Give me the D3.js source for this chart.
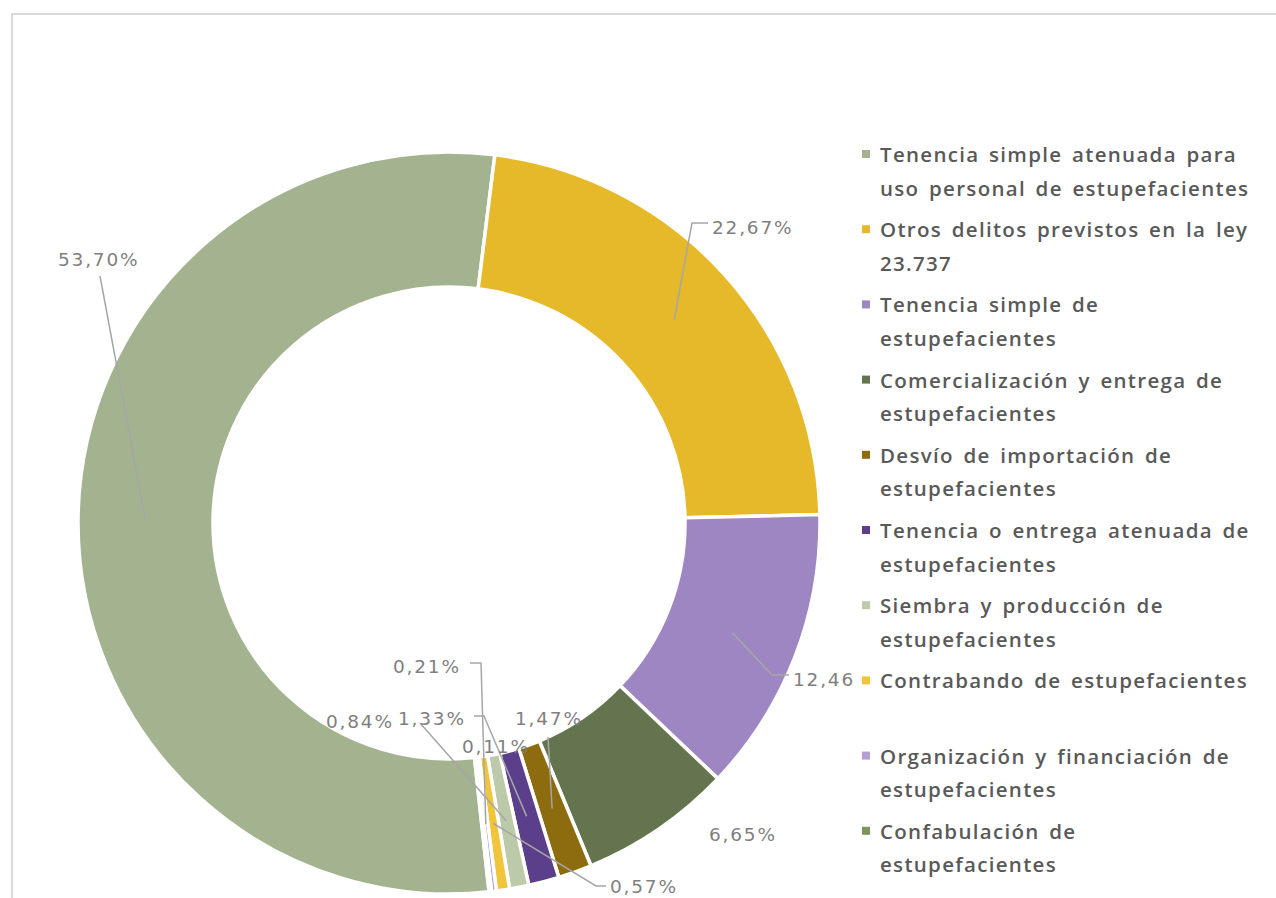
<!DOCTYPE html>
<html>
<head>
<meta charset="utf-8">
<script src="https://cdn.jsdelivr.net/npm/d3@7"></script>
<style>
  body { margin: 0; background: #fff; }
  svg { display: block; }
</style>
</head>
<body>
<script>
// categories (legend order = slice order, clockwise)
var categories = [
  "Tenencia simple atenuada para\nuso personal de estupefacientes",
  "Otros delitos previstos en la ley\n23.737",
  "Tenencia simple de\nestupefacientes",
  "Comercialización y entrega de\nestupefacientes",
  "Desvío de importación de\nestupefacientes",
  "Tenencia o entrega atenuada de\nestupefacientes",
  "Siembra y producción de\nestupefacientes",
  "Contrabando de estupefacientes",
  "Organización y financiación de\nestupefacientes",
  "Confabulación de\nestupefacientes"
];
var values = [53.70, 22.67, 12.46, 6.65, 1.47, 1.33, 0.84, 0.57, 0.21, 0.11];
var colors = ["#a4b38f", "#e5b92a", "#9d86c2", "#64744f", "#8c6c0f",
              "#5b3f8a", "#bccaa9", "#f0c53a", "#b19fd6", "#7b955d"];

// where Excel put each data label (text x, baseline y) and the leader start
var labelLayout = [
  {x: 58,  y: 266, lead: [[100, 276]]},
  {x: 712, y: 234, lead: [[708, 223], [692, 223]]},
  {x: 793, y: 686, lead: [[789, 675], [772, 675]]},
  {x: 709, y: 841, lead: null},
  {x: 515, y: 725, lead: [[548, 737]]},
  {x: 398, y: 725, lead: [[474, 716], [484, 716]]},
  {x: 326, y: 728, lead: [[420, 723]]},
  {x: 610, y: 893, lead: [[606, 886], [596, 886]]},
  {x: 393, y: 673, lead: [[470, 663], [481, 663]]},
  {x: 462, y: 753, lead: null}
];

var width = 1276, height = 898;
var cx = 449, cy = 523, outerR = 371, innerR = 236;
var startDeg = 173.8;

var locale = d3.formatLocale({decimal: ",", thousands: ".", grouping: [3], currency: ["", ""]});
var fmt = locale.format(".2f");

var svg = d3.select("body").append("svg")
  .attr("width", width)
  .attr("height", height);

// frame
svg.append("rect")
  .attr("x", 12).attr("y", 14)
  .attr("width", 1400).attr("height", 1000)
  .attr("fill", "#fff")
  .attr("stroke", "#d9d9d9")
  .attr("stroke-width", 2);

var pie = d3.pie()
  .sort(null)
  .value(function(d){ return d; })
  .startAngle(startDeg * Math.PI / 180)
  .endAngle(startDeg * Math.PI / 180 + 2 * Math.PI);

var arc = d3.arc().innerRadius(innerR).outerRadius(outerR);

var arcs = pie(values);

var g = svg.append("g").attr("transform", "translate(" + cx + "," + cy + ")");

g.selectAll("path.slice")
  .data(arcs)
  .enter().append("path")
  .attr("class", "slice")
  .attr("d", arc)
  .attr("fill", function(d, i){ return colors[i]; })
  .attr("stroke", "#fff")
  .attr("stroke-width", 3.5);

// leader lines
var line = d3.line();
arcs.forEach(function(d, i){
  var lay = labelLayout[i];
  if (!lay.lead) return;
  var c = arc.centroid(d);
  var pts = lay.lead.concat([[c[0] + cx, c[1] + cy]]);
  svg.append("path")
    .attr("d", line(pts))
    .attr("fill", "none")
    .attr("stroke", "#a6a6a6")
    .attr("stroke-width", 1.5);
});

// data labels
svg.selectAll("text.lbl")
  .data(arcs)
  .enter().append("text")
  .attr("class", "lbl")
  .attr("x", function(d, i){ return labelLayout[i].x; })
  .attr("y", function(d, i){ return labelLayout[i].y; })
  .attr("font-family", "DejaVu Sans, sans-serif")
  .attr("font-size", 18.5)
  .attr("letter-spacing", 1.8)
  .attr("fill", "#7f7f7f")
  .text(function(d){ return fmt(d.data) + "%"; });

// legend
var legend = svg.append("g");
legend.append("rect")
  .attr("x", 855).attr("y", 130)
  .attr("width", 420).attr("height", 760)
  .attr("fill", "#fff");

var slot = 75.2, firstY = 162, lineGap = 33.5;
categories.forEach(function(name, i){
  var y0 = firstY + i * slot;
  legend.append("rect")
    .attr("x", 862).attr("y", y0 - 12)
    .attr("width", 8).attr("height", 8)
    .attr("fill", colors[i]);
  var t = legend.append("text")
    .attr("x", 880).attr("y", y0)
    .attr("font-family", "Open Sans, sans-serif")
    .attr("font-size", 20.5)
    .attr("font-weight", 600)
    .attr("letter-spacing", 1.3)
    .attr("word-spacing", 3)
    .attr("fill", "#595959");
  name.split("\n").forEach(function(part, k){
    t.append("tspan")
      .attr("x", 880)
      .attr("y", y0 + k * lineGap)
      .text(part);
  });
});
</script>
</body>
</html>
